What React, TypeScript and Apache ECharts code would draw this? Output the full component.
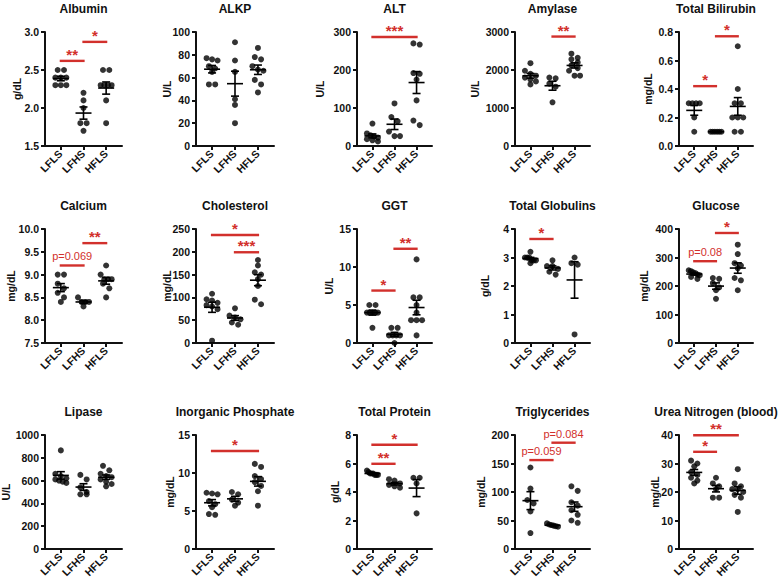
import React, { useEffect, useRef } from 'react';
import * as echarts from 'echarts';

const categories = ['LFLS', 'LFHS', 'HFLS'];

const titles = ['Albumin', 'ALKP', 'ALT', 'Amylase', 'Total Bilirubin', 'Calcium', 'Cholesterol', 'GGT', 'Total Globulins', 'Glucose', 'Lipase', 'Inorganic Phosphate', 'Total Protein', 'Triglycerides', 'Urea Nitrogen (blood)'];
const units = ['g/dL', 'U/L', 'U/L', 'U/L', 'mg/dL', 'mg/dL', 'mg/dL', 'U/L', 'g/dL', 'mg/dL', 'U/L', 'mg/dL', 'g/dL', 'mg/dL', 'mg/dL'];
const axisMin = [1.5, 0, 0, 0, 0, 7.5, 0, 0, 0, 0, 0, 0, 0, 0, 0];
const axisMax = [3.0, 100, 300, 3000, 0.8, 10, 250, 15, 4, 400, 1000, 15, 8, 200, 40];
const axisStep = [0.5, 20, 100, 1000, 0.2, 0.5, 50, 5, 1, 100, 200, 5, 2, 50, 10];
const axisDecimals = [1, 0, 0, 0, 1, 1, 0, 0, 0, 0, 0, 0, 0, 0, 0];

// values per group: LFLS, LFHS, HFLS
const albumin = [[2.5, 2.5, 2.4, 2.4, 2.4, 2.3, 2.3, 2.3], [2.2, 2.1, 2.0, 1.8, 1.8, 1.7], [2.5, 2.5, 2.3, 2.3, 2.3, 2.3, 2.1, 1.8]];
const alkp = [[77, 76, 75, 70, 68, 65, 54, 54], [91, 75, 65, 41, 36, 20], [86, 78, 76, 70, 67, 66, 58, 54, 47]];
const alt = [[59, 33, 28, 25, 22, 18, 15, 12], [112, 76, 65, 38, 26, 26], [270, 267, 192, 190, 175, 120, 67, 55]];
const amylase = [[2180, 1980, 1900, 1850, 1800, 1750, 1700, 1620], [1800, 1780, 1640, 1560, 1150], [2430, 2320, 2280, 2200, 2120, 2050, 1980, 1850, 1850]];
const bilirubin = [[0.3, 0.3, 0.3, 0.3, 0.2, 0.1], [0.1, 0.1, 0.1, 0.1, 0.1, 0.1], [0.7, 0.4, 0.3, 0.3, 0.2, 0.2, 0.2, 0.1, 0.1]];
const calcium = [[9.0, 9.0, 8.8, 8.7, 8.6, 8.5, 8.4], [8.5, 8.4, 8.4, 8.4, 8.3], [9.2, 9.0, 8.9, 8.9, 8.9, 8.8, 8.7, 8.5]];
const cholesterol = [[108, 96, 93, 88, 83, 80, 74, 5], [76, 60, 56, 52, 45, 40], [182, 170, 155, 150, 140, 125, 95, 85]];
const ggt = [[5, 5, 4, 4, 4, 4, 4, 2], [2, 2, 1, 1, 1, 1, 0], [11, 6, 6, 5, 4, 3, 3, 3, 1]];
const globulins = [[3.2, 3.0, 3.0, 3.0, 2.9, 2.9, 2.9, 2.8], [2.9, 2.7, 2.7, 2.6, 2.5, 2.4], [3.0, 2.8, 2.75, 0.3]];
const glucose = [[255, 252, 248, 245, 240, 238, 232, 225], [228, 225, 210, 195, 185, 155], [345, 312, 280, 272, 262, 228, 220, 185]];
const lipase = [[865, 660, 640, 620, 610, 600, 590, 580], [650, 610, 540, 500, 480, 480], [730, 690, 660, 640, 630, 610, 590, 570, 550]];
const phosphate = [[7.4, 7.3, 7.2, 6.3, 5.9, 5.5, 4.6, 4.5], [7.5, 7.2, 6.5, 6.1, 5.7], [11.2, 10.8, 9.6, 9.2, 8.8, 8.3, 7.6, 5.7]];
const protein = [[5.5, 5.4, 5.3, 5.3, 5.3, 5.2, 5.2, 5.2], [4.9, 4.8, 4.6, 4.5, 4.4, 4.3], [5.0, 5.0, 4.6, 2.5]];
const triglycerides = [[143, 106, 86, 80, 66, 28], [45, 43, 42, 41, 40, 39], [110, 102, 82, 76, 68, 60, 50, 46]];
const urea = [[31, 30, 29, 27, 26, 25, 24, 23], [25, 23, 22, 21, 18, 18], [28, 23, 22, 21, 21, 20, 19, 18, 13]];

// significance: [from group, to group, bar height, label]
const albuminSig = [[1, 2, 2.62, '**'], [2, 3, 2.87, '*']];
const alkpSig: any[] = [];
const altSig = [[1, 3, 287, '***']];
const amylaseSig = [[2, 3, 2880, '**']];
const bilirubinSig = [[1, 2, 0.42, '*'], [2, 3, 0.77, '*']];
const calciumSig = [[1, 2, 9.2, 'p=0.069'], [2, 3, 9.69, '**']];
const cholesterolSig = [[1, 3, 237, '*'], [2, 3, 199, '***']];
const ggtSig = [[1, 2, 6.9, '*'], [2, 3, 12.4, '**']];
const globulinsSig = [[1, 2, 3.65, '*']];
const glucoseSig = [[1, 2, 287, 'p=0.08'], [2, 3, 386, '*']];
const lipaseSig: any[] = [];
const phosphateSig = [[1, 3, 12.9, '*']];
const proteinSig = [[1, 3, 7.32, '*'], [1, 2, 5.98, '**']];
const triglyceridesSig = [[1, 2, 156, 'p=0.059'], [2, 3, 186.5, 'p=0.084']];
const ureaSig = [[1, 2, 34.1, '*'], [1, 3, 39.9, '**']];

const panelValues = [albumin, alkp, alt, amylase, bilirubin, calcium, cholesterol, ggt, globulins, glucose, lipase, phosphate, protein, triglycerides, urea];
const panelSig = [albuminSig, alkpSig, altSig, amylaseSig, bilirubinSig, calciumSig, cholesterolSig, ggtSig, globulinsSig, glucoseSig, lipaseSig, phosphateSig, proteinSig, triglyceridesSig, ureaSig];

// layout
const colLeft = [45, 196, 357, 515, 679];
const colRight = [122, 274, 432, 590, 753];
const rowTop = [32, 229, 435];
const rowHeight = 114;
const nameGaps = [23, 24, 32, 35, 26, 29, 24, 23, 25, 30, 34, 21, 17, 29, 19];
const X_MIN = 0.3;
const X_MAX = 3.7;
const DOT = 6;
const MAX_HALF = 5.5;
const FONT = '"Liberation Sans", Arial, Helvetica, sans-serif';
const RED = '#d2302c';

function mean(a: number[]) {
  return a.reduce((s, v) => s + v, 0) / a.length;
}
function sem(a: number[]) {
  const m = mean(a);
  if (a.length < 2) return 0;
  const v = a.reduce((s, x) => s + (x - m) * (x - m), 0) / (a.length - 1);
  return Math.sqrt(v) / Math.sqrt(a.length);
}

// row-based scatter layout (Prism-like), returns pixel offsets
function swarm(vals: number[], pxPerY: number): number[] {
  const idx = vals.map((_, i) => i).sort((a, b) => vals[b] - vals[a]);
  const out = new Array(vals.length).fill(0);
  const rows: number[][] = [];
  let cur: number[] = [];
  let startY = 0;
  idx.forEach((i) => {
    const y = vals[i] * pxPerY;
    if (cur.length && Math.abs(startY - y) < DOT * 0.85) {
      cur.push(i);
    } else {
      if (cur.length) rows.push(cur);
      cur = [i];
      startY = y;
    }
  });
  if (cur.length) rows.push(cur);
  rows.forEach((row, ri) => {
    const n = row.length;
    if (n === 1) {
      out[row[0]] = 0;
      return;
    }
    const spacing = Math.min(DOT * 1.05, (2 * MAX_HALF) / (n - 1));
    row.forEach((i, k) => {
      out[i] = (k - (n - 1) / 2) * spacing;
    });
  });
  return out;
}

function buildOption() {
  const grid: any[] = [];
  const xAxis: any[] = [];
  const yAxis: any[] = [];
  const series: any[] = [];
  const graphic: any[] = [];

  panelValues.forEach((groups, i) => {
    const r = Math.floor(i / 5);
    const c = i % 5;
    const left = colLeft[c];
    const width = colRight[c] - colLeft[c];
    const top = rowTop[r];
    const height = rowHeight;
    const pxPerX = width / (X_MAX - X_MIN);
    const pxPerY = height / (axisMax[i] - axisMin[i]);

    grid.push({ left, top, width, height, containLabel: false, outerBoundsMode: 'none' });

    graphic.push({
      type: 'text',
      x: left + width / 2,
      y: top - 23.5,
      style: {
        text: titles[i],
        font: `bold 12px ${FONT}`,
        fill: '#111',
        align: 'center',
        verticalAlign: 'middle',
      },
    });

    xAxis.push({
      type: 'value',
      gridIndex: i,
      min: X_MIN,
      max: X_MAX,
      splitLine: { show: false },
      axisLine: { show: true, onZero: false, lineStyle: { color: '#111', width: 2 } },
      axisTick: { show: true, customValues: [1, 2, 3], length: 4, lineStyle: { color: '#111', width: 2 } },
      axisLabel: {
        customValues: [1, 2, 3],
        formatter: (v: number) => categories[Math.round(v) - 1] ?? '',
        rotate: 45,
        margin: 6,
        color: '#111',
        fontWeight: 'bold',
        fontSize: 10.5,
        fontFamily: FONT,
      },
    });

    yAxis.push({
      type: 'value',
      gridIndex: i,
      min: axisMin[i],
      max: axisMax[i],
      interval: axisStep[i],
      splitLine: { show: false },
      axisLine: { show: true, onZero: false, lineStyle: { color: '#111', width: 2 } },
      axisTick: { show: true, length: 4, lineStyle: { color: '#111', width: 2 } },
      axisLabel: {
        formatter: (v: number) => v.toFixed(axisDecimals[i]),
        margin: 6,
        color: '#111',
        fontWeight: 'bold',
        fontSize: 10.5,
        fontFamily: FONT,
      },
      name: units[i],
      nameLocation: 'middle',
      nameRotate: 90,
      nameGap: nameGaps[i],
      nameMoveOverlap: false,
      nameTextStyle: { color: '#111', fontWeight: 'bold', fontSize: 10.5, fontFamily: FONT },
    });

    // points
    const pts: number[][] = [];
    groups.forEach((vals, g) => {
      const offs = swarm(vals, pxPerY);
      vals.forEach((v, k) => pts.push([g + 1 + offs[k] / pxPerX, v]));
    });
    series.push({
      type: 'scatter',
      xAxisIndex: i,
      yAxisIndex: i,
      data: pts,
      symbol: 'circle',
      symbolSize: DOT,
      itemStyle: { color: '#000' },
      silent: true,
      z: 2,
    });

    // mean +- SEM
    const stats = groups.map((vals, g) => [g + 1, mean(vals), sem(vals)]);
    series.push({
      type: 'custom',
      xAxisIndex: i,
      yAxisIndex: i,
      data: stats,
      encode: { x: 0, y: 1 },
      silent: true,
      z: 3,
      renderItem: (params: any, api: any) => {
        const x = api.value(0);
        const m = api.value(1);
        const s = api.value(2);
        const pm = api.coord([x, m]);
        const pt = api.coord([x, m + s]);
        const pb = api.coord([x, m - s]);
        const st = { stroke: '#000', lineWidth: 1.6 };
        const children: any[] = [
          { type: 'line', shape: { x1: pm[0] - 8, y1: pm[1], x2: pm[0] + 8, y2: pm[1] }, style: st },
        ];
        if (s > 0) {
          children.push(
            { type: 'line', shape: { x1: pm[0], y1: pt[1], x2: pm[0], y2: pb[1] }, style: st },
            { type: 'line', shape: { x1: pm[0] - 4, y1: pt[1], x2: pm[0] + 4, y2: pt[1] }, style: st },
            { type: 'line', shape: { x1: pm[0] - 4, y1: pb[1], x2: pm[0] + 4, y2: pb[1] }, style: st }
          );
        }
        return { type: 'group', children };
      },
    });

    // significance bars
    const sig = panelSig[i];
    if (sig.length) {
      series.push({
        type: 'custom',
        xAxisIndex: i,
        yAxisIndex: i,
        data: sig.map((s: any[]) => [s[0], s[1], s[2]]),
        encode: { x: [0, 1], y: 2 },
        silent: true,
        clip: false,
        z: 4,
        renderItem: (params: any, api: any) => {
          const x1 = api.value(0);
          const x2 = api.value(1);
          const y = api.value(2);
          const label = String(sig[params.dataIndex][3]);
          const p1 = api.coord([x1 - 0.05, y]);
          const p2 = api.coord([x2 + 0.05, y]);
          const isStar = label.indexOf('*') === 0;
          return {
            type: 'group',
            children: [
              { type: 'line', shape: { x1: p1[0], y1: p1[1], x2: p2[0], y2: p2[1] }, style: { stroke: RED, lineWidth: 2.4 } },
              {
                type: 'text',
                x: (p1[0] + p2[0]) / 2,
                y: isStar ? p1[1] + 1 : p1[1] - 9,
                style: {
                  text: label,
                  font: isStar ? `bold 15px ${FONT}` : `11px ${FONT}`,
                  fill: RED,
                  align: 'center',
                  verticalAlign: isStar ? 'bottom' : 'middle',
                },
              },
            ],
          };
        },
      });
    }
  });

  return { animation: false, backgroundColor: '#fff', grid, xAxis, yAxis, series, graphic };
}

export default function App() {
  const ref = useRef<HTMLDivElement>(null);
  useEffect(() => {
    if (!ref.current) return;
    const chart = echarts.init(ref.current, undefined, { renderer: 'svg' });
    chart.setOption(buildOption() as any);
    return () => chart.dispose();
  }, []);
  return <div ref={ref} style={{ position: 'absolute', left: 0, top: 0, width: 781, height: 583, background: '#fff' }} />;
}
